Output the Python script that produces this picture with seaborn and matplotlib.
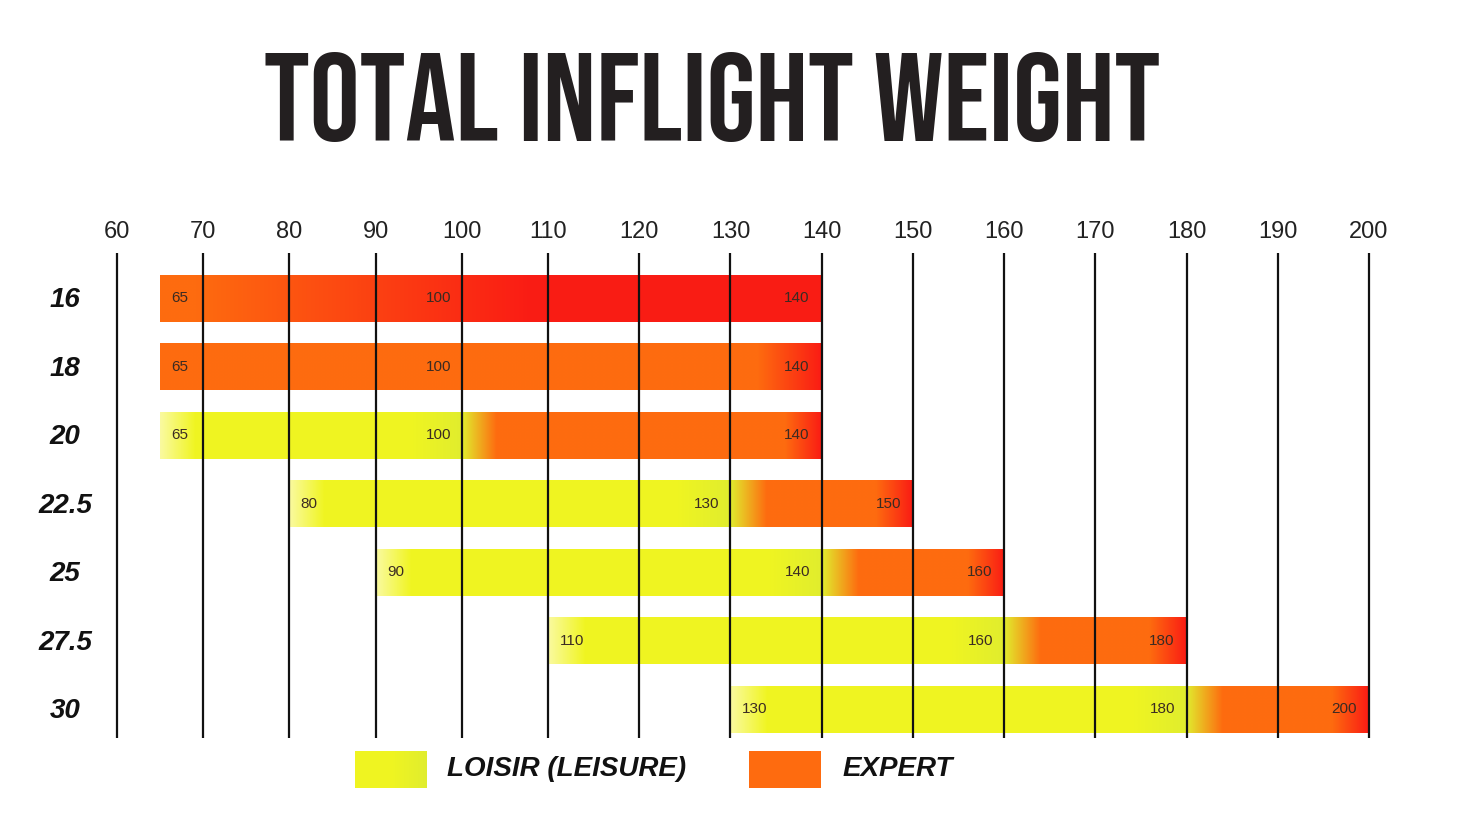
import numpy as np
import matplotlib
matplotlib.use("Agg")
import matplotlib.pyplot as plt
from matplotlib import font_manager
from matplotlib.patches import Rectangle
from matplotlib.transforms import blended_transform_factory
import seaborn as sns

# data
sizes = ["16", "18", "20", "22.5", "25", "27.5", "30"]
start_kg = [65, 65, 65, 80, 90, 110, 130]
leisure_max = [100, 100, 100, 130, 140, 160, 180]
expert_max = [140, 140, 140, 150, 160, 180, 200]
has_leisure = [False, False, True, True, True, True, True]
ticks = list(range(60, 201, 10))

sns.set_theme(style="white")
plt.rcParams["font.family"] = ["Liberation Sans", "DejaVu Sans"]

YEL_LIGHT = np.array([0.98, 0.98, 0.62])
YEL = np.array([0.94, 0.96, 0.13])
YEL_G = np.array([0.88, 0.93, 0.18])
ORANGE = np.array([0.996, 0.42, 0.06])
RED = np.array([0.98, 0.11, 0.08])

# the original grid is a bit tighter below 110 than above it
BREAK, STEP_LO, STEP_HI = 110, 0.862, 0.912


def fwd(x):
    x = np.asarray(x, dtype=float)
    return np.where(x < BREAK, x * STEP_LO, BREAK * STEP_LO + (x - BREAK) * STEP_HI)


def inv(y):
    y = np.asarray(y, dtype=float)
    b = BREAK * STEP_LO
    return np.where(y < b, y / STEP_LO, BREAK + (y - b) / STEP_HI)


fig = plt.figure(figsize=(14.82, 8.25), dpi=100)
ax = fig.add_axes([117 / 1482, 1 - 738 / 825, (1369 - 117) / 1482, (738 - 253) / 825])
ax.set_xscale("function", functions=(fwd, inv))

bar_h = 0.69
for i in range(len(sizes)):
    s, m, e = start_kg[i], leisure_max[i], expert_max[i]
    if has_leisure[i]:
        stops = [(s, YEL_LIGHT), (s + 4, YEL), (m - 6, YEL), (m, YEL_G),
                 (m + 4, ORANGE), (e - 4, ORANGE), (e, RED)]
    elif i == 0:
        stops = [(s, ORANGE), (s + 4, ORANGE), (s + 43, RED), (e, RED)]
    else:
        stops = [(s, ORANGE), (e - 7, ORANGE), (e, RED)]
    xs = np.linspace(s, e, 600)
    px = [p for p, _ in stops]
    cols = np.stack([np.interp(xs, px, [c[k] for _, c in stops]) for k in range(3)], axis=1)
    ax.imshow(cols[None, :, :], extent=[s, e, i + bar_h / 2, i - bar_h / 2],
              aspect="auto", interpolation="bilinear", zorder=2)
    lab_kw = dict(va="center", fontsize=11, color="#3b2b22", zorder=4)
    ax.text(s + 1.3, i, str(s), ha="left", **lab_kw)
    ax.text(m - 1.2, i, str(m), ha="right", **lab_kw)
    ax.text(e - 1.3, i, str(e), ha="right", **lab_kw)

ax.set_xlim(60, 200)
ax.set_ylim(6.42, -0.657)
ax.vlines(ticks, 6.42, -0.657, color="#111111", lw=1.6, zorder=3, clip_on=False)

ax.xaxis.tick_top()
ax.set_xticks(ticks)
ax.set_xticklabels([str(t) for t in ticks], fontsize=17, color="#222222")
ax.tick_params(axis="x", length=0, pad=7)
ax.set_yticks([])
sns.despine(ax=ax, left=True, bottom=True, top=True, right=True)
ax.grid(False)

tr = blended_transform_factory(fig.transFigure, ax.transData)
for i, lab in enumerate(sizes):
    ax.text(65 / 1482, i + 0.03, lab, transform=tr, ha="center", va="center",
            fontsize=20, fontweight="bold", style="italic", color="#111111")

# title with a condensed face if one is there
names = {f.name for f in font_manager.fontManager.ttflist}
title_kw = dict(fontweight="bold", color="#231f20")
for cand in ["Bebas Neue", "Oswald", "Roboto Condensed", "Liberation Sans Narrow"]:
    if cand in names:
        title_kw["family"] = cand
        break
else:
    title_kw["family"] = "DejaVu Sans"
    title_kw["stretch"] = "condensed"
title = fig.text(712 / 1482, 1 - 141 / 825, "TOTAL INFLIGHT WEIGHT", ha="center",
                 va="baseline", fontsize=80, **title_kw)
fig.canvas.draw()
w = title.get_window_extent().width
title.set_fontsize(80 * 895 / w)

# legend
leg_yel = fig.add_axes([355 / 1482, 1 - 788 / 825, 72 / 1482, 37 / 825])
leg_grad = np.stack([np.interp(np.linspace(0, 1, 100), [0, 0.5, 1], [YEL[k], YEL[k], YEL_G[k]])
                     for k in range(3)], axis=1)
leg_yel.imshow(leg_grad[None, :, :], aspect="auto")
leg_yel.set_axis_off()
fig.patches.append(Rectangle((749 / 1482, 1 - 788 / 825), 72 / 1482, 37 / 825,
                             transform=fig.transFigure, facecolor=ORANGE, edgecolor="none"))
leg_kw = dict(va="center", ha="left", fontsize=20, fontweight="bold", style="italic",
              color="#111111")
fig.text(447 / 1482, 1 - 769 / 825, "LOISIR (LEISURE)", **leg_kw)
fig.text(843 / 1482, 1 - 769 / 825, "EXPERT", **leg_kw)

fig.savefig("out.png", dpi=100, facecolor="white")
